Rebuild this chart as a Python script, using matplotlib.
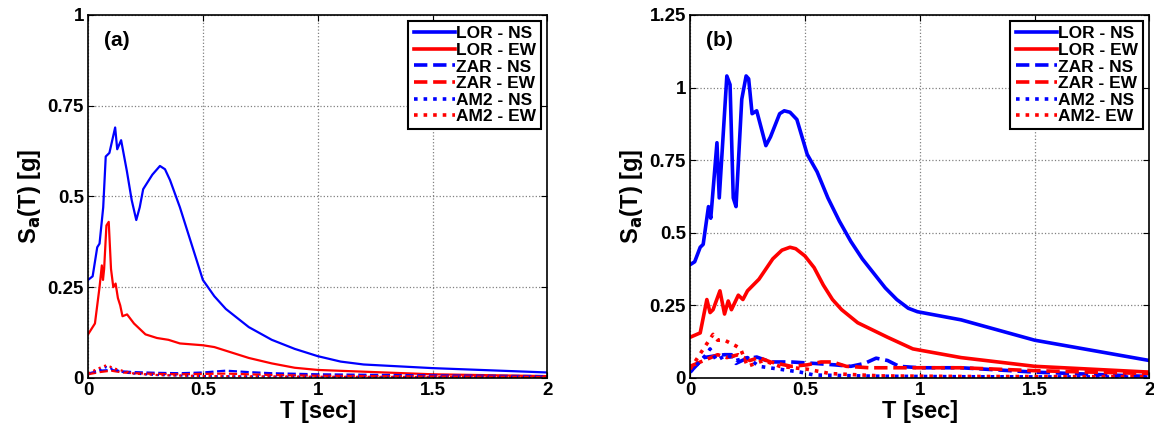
import numpy as np
import matplotlib.pyplot as plt

plt.rcParams['font.family'] = ['Liberation Sans', 'DejaVu Sans']
plt.rcParams['font.weight'] = 'bold'

# ---- panel (a) ----
a_lor_ns_T = [0, 0.02, 0.04, 0.05, 0.066, 0.077, 0.093, 0.118, 0.127, 0.144, 0.169, 0.19, 0.21, 0.225,
              0.24, 0.28, 0.313, 0.335, 0.357, 0.4, 0.43, 0.47, 0.5, 0.55, 0.6, 0.65, 0.7, 0.8, 0.9,
              1.0, 1.1, 1.2, 1.5, 2.0]
a_lor_ns = [0.27, 0.28, 0.36, 0.37, 0.47, 0.61, 0.62, 0.69, 0.63, 0.655, 0.57, 0.49, 0.435, 0.47,
            0.52, 0.56, 0.584, 0.575, 0.545, 0.47, 0.41, 0.33, 0.27, 0.225, 0.19, 0.165, 0.14, 0.105, 0.08,
            0.06, 0.045, 0.037, 0.027, 0.015]
a_lor_ew_T = [0, 0.03, 0.05, 0.06, 0.065, 0.07, 0.08, 0.09, 0.1, 0.11, 0.12, 0.13, 0.14, 0.15,
              0.17, 0.2, 0.25, 0.3, 0.35, 0.4, 0.5, 0.55, 0.6, 0.7, 0.8, 0.9, 1.0, 1.5, 2.0]
a_lor_ew = [0.12, 0.15, 0.25, 0.31, 0.27, 0.30, 0.42, 0.43, 0.30, 0.25, 0.26, 0.22, 0.20, 0.17,
            0.175, 0.15, 0.12, 0.11, 0.105, 0.095, 0.09, 0.085, 0.075, 0.055, 0.04, 0.028, 0.022, 0.01, 0.005]
a_zar_ns_T = [0, 0.05, 0.1, 0.15, 0.2, 0.3, 0.4, 0.5, 0.6, 0.7, 0.8, 1.0, 1.5, 2.0]
a_zar_ns = [0.012, 0.02, 0.022, 0.018, 0.016, 0.014, 0.013, 0.015, 0.02, 0.016, 0.013, 0.01, 0.007, 0.005]
a_zar_ew_T = [0, 0.05, 0.1, 0.15, 0.2, 0.3, 0.4, 0.5, 0.6, 0.7, 0.8, 1.0, 1.5, 2.0]
a_zar_ew = [0.01, 0.016, 0.02, 0.015, 0.013, 0.011, 0.01, 0.011, 0.012, 0.01, 0.008, 0.006, 0.004, 0.003]
a_am2_ns_T = [0, 0.04, 0.08, 0.12, 0.16, 0.2, 0.3, 0.5, 1.0, 2.0]
a_am2_ns = [0.012, 0.02, 0.03, 0.022, 0.015, 0.012, 0.008, 0.005, 0.003, 0.002]
a_am2_ew_T = [0, 0.04, 0.08, 0.12, 0.16, 0.2, 0.3, 0.5, 1.0, 2.0]
a_am2_ew = [0.012, 0.025, 0.035, 0.025, 0.018, 0.012, 0.008, 0.005, 0.003, 0.002]

# ---- panel (b) ----
b_lor_ns_T = [0, 0.02, 0.044, 0.057, 0.08, 0.09, 0.117, 0.127, 0.16, 0.174, 0.188, 0.2, 0.225,
              0.244, 0.255, 0.27, 0.29, 0.33, 0.35, 0.39, 0.41, 0.435, 0.465, 0.51, 0.553, 0.6,
              0.65, 0.7, 0.75, 0.8, 0.85, 0.9, 0.95, 0.99, 1.18, 1.5, 2.0]
b_lor_ns = [0.39, 0.40, 0.45, 0.46, 0.59, 0.55, 0.81, 0.62, 1.04, 1.01, 0.62, 0.59, 0.96,
            1.04, 1.03, 0.91, 0.92, 0.80, 0.83, 0.91, 0.92, 0.915, 0.89, 0.77, 0.71, 0.62,
            0.54, 0.47, 0.41, 0.36, 0.31, 0.27, 0.24, 0.228, 0.20, 0.13, 0.06]
b_lor_ew_T = [0, 0.044, 0.073, 0.087, 0.1, 0.13, 0.15, 0.166, 0.18, 0.21, 0.23, 0.25, 0.30,
              0.36, 0.4, 0.435, 0.46, 0.5, 0.54, 0.58, 0.62, 0.66, 0.73, 0.86, 0.97, 1.18, 1.5, 2.0]
b_lor_ew = [0.14, 0.155, 0.27, 0.225, 0.235, 0.30, 0.22, 0.265, 0.235, 0.285, 0.27, 0.30, 0.34,
            0.41, 0.44, 0.45, 0.445, 0.42, 0.38, 0.32, 0.27, 0.235, 0.19, 0.14, 0.10, 0.07, 0.04, 0.02]
b_zar_ns_T = [0, 0.06, 0.1, 0.15, 0.18, 0.2, 0.24, 0.29, 0.35, 0.44, 0.54, 0.63, 0.7, 0.76,
              0.81, 0.86, 0.91, 1.0, 1.18, 1.5, 2.0]
b_zar_ns = [0.02, 0.07, 0.075, 0.08, 0.08, 0.05, 0.065, 0.072, 0.055, 0.055, 0.05, 0.045, 0.04, 0.05,
            0.068, 0.06, 0.04, 0.035, 0.035, 0.02, 0.005]
b_zar_ew_T = [0, 0.06, 0.12, 0.16, 0.21, 0.26, 0.3, 0.35, 0.44, 0.51, 0.57, 0.62, 0.68, 0.78,
              0.9, 1.0, 1.18, 1.5, 2.0]
b_zar_ew = [0.04, 0.06, 0.08, 0.07, 0.08, 0.06, 0.07, 0.055, 0.04, 0.045, 0.055, 0.055, 0.04, 0.035,
            0.035, 0.035, 0.035, 0.025, 0.015]
b_am2_ns_T = [0, 0.07, 0.087, 0.115, 0.16, 0.2, 0.25, 0.3, 0.39, 0.48, 0.54, 0.8, 1.2, 2.0]
b_am2_ns = [0.02, 0.08, 0.10, 0.06, 0.08, 0.06, 0.07, 0.04, 0.03, 0.02, 0.01, 0.006, 0.004, 0.003]
b_am2_ew_T = [0, 0.058, 0.1, 0.12, 0.15, 0.2, 0.22, 0.25, 0.32, 0.39, 0.51, 0.61, 0.83, 1.2, 2.0]
b_am2_ew = [0.03, 0.10, 0.15, 0.13, 0.13, 0.11, 0.10, 0.04, 0.06, 0.04, 0.03, 0.015, 0.007, 0.005, 0.004]

labels_a = ['LOR - NS', 'LOR - EW', 'ZAR - NS', 'ZAR - EW', 'AM2 - NS', 'AM2 - EW']
labels_b = ['LOR - NS', 'LOR - EW', 'ZAR - NS', 'ZAR - EW', 'AM2 - NS', 'AM2- EW']

fig = plt.figure(figsize=(11.54, 4.28), dpi=100)
ax1 = fig.add_axes([0.0763, 0.117, 0.398, 0.848])
ax2 = fig.add_axes([0.598, 0.117, 0.398, 0.848])

styles = [('b', '-'), ('r', '-'), ('b', '--'), ('r', '--'), ('b', ':'), ('r', ':')]


def draw(ax, series, labels, lw, ymax, yticks, yticklabels, tag):
    for (T, S), (c, ls), lab in zip(series, styles, labels):
        ax.plot(T, S, color=c, linestyle=ls, linewidth=lw, label=lab)
    ax.set_xlim(0, 2)
    ax.set_ylim(0, ymax)
    ax.set_xticks([0, 0.5, 1, 1.5, 2])
    ax.set_xticklabels(['0', '0.5', '1', '1.5', '2'])
    ax.set_yticks(yticks)
    ax.set_yticklabels(yticklabels)
    ax.tick_params(direction='in', top=True, right=True, labelsize=13.5, length=4, pad=3)
    ax.grid(True, linestyle=':', color='0.5', linewidth=0.9)
    for sp in ax.spines.values():
        sp.set_linewidth(1.2)
    ax.set_xlabel('T [sec]', fontsize=17, fontweight='bold', labelpad=1)
    ax.set_ylabel('S$_\\mathbf{a}$(T) [g]', fontsize=17, fontweight='bold', labelpad=3)
    ax.text(0.035, 0.955, tag, transform=ax.transAxes, fontsize=15, fontweight='bold', va='top')
    leg = ax.legend(loc='upper right', fontsize=12.5, handlelength=2.4, handletextpad=0.05,
                    borderpad=0.3, labelspacing=0.08, fancybox=False, framealpha=1,
                    borderaxespad=0.35)
    leg.get_frame().set_edgecolor('black')
    leg.get_frame().set_linewidth(1.5)
    for line in leg.get_lines():
        line.set_linewidth(2.6)
    for t in leg.get_texts():
        t.set_fontweight('bold')


draw(ax1, [(a_lor_ns_T, a_lor_ns), (a_lor_ew_T, a_lor_ew), (a_zar_ns_T, a_zar_ns),
           (a_zar_ew_T, a_zar_ew), (a_am2_ns_T, a_am2_ns), (a_am2_ew_T, a_am2_ew)],
     labels_a, 1.6, 1, [0, 0.25, 0.5, 0.75, 1], ['0', '0.25', '0.5', '0.75', '1'], '(a)')
draw(ax2, [(b_lor_ns_T, b_lor_ns), (b_lor_ew_T, b_lor_ew), (b_zar_ns_T, b_zar_ns),
           (b_zar_ew_T, b_zar_ew), (b_am2_ns_T, b_am2_ns), (b_am2_ew_T, b_am2_ew)],
     labels_b, 2.6, 1.25, [0, 0.25, 0.5, 0.75, 1, 1.25], ['0', '0.25', '0.5', '0.75', '1', '1.25'], '(b)')

fig.savefig('out.png', dpi=100)
